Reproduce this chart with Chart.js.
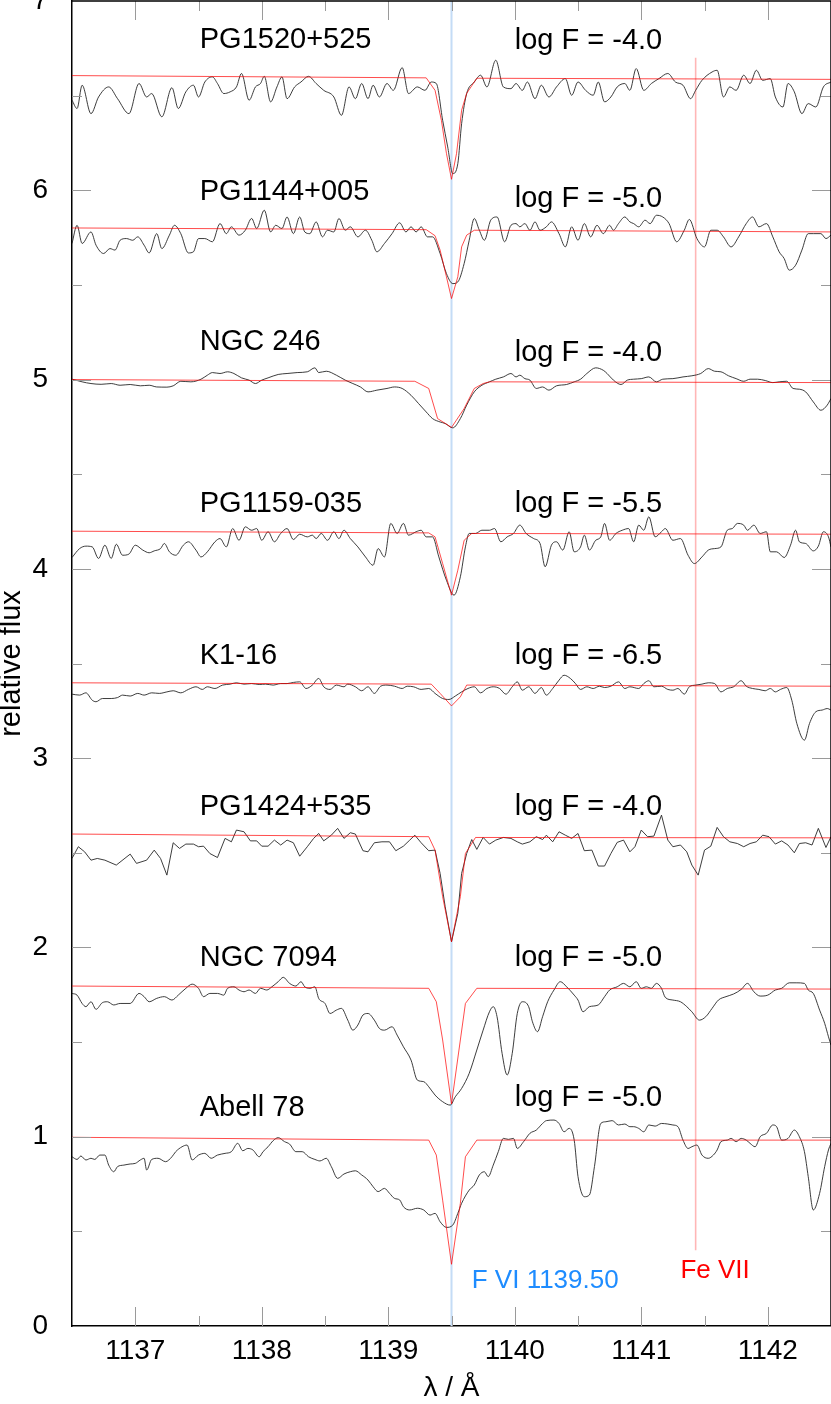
<!DOCTYPE html>
<html>
<head>
<meta charset="utf-8">
<script src="https://cdn.jsdelivr.net/npm/chart.js@4.4.1/dist/chart.umd.min.js"></script>
<style>
  html, body { margin: 0; padding: 0; background: #fff; }
  canvas { display: block; }
</style>
</head>
<body>
<canvas id="spec" width="831" height="1404"></canvas>
<script>
// star names and the F abundance given for each panel
const starNames = ['PG1520+525', 'PG1144+005', 'NGC 246', 'PG1159-035', 'K1-16', 'PG1424+535', 'NGC 7094', 'Abell 78'];
const logF = ['-4.0', '-5.0', '-4.0', '-5.5', '-6.5', '-4.0', '-5.0', '-5.0'];

// axis ticks
const xMajorTicks = [1137, 1138, 1139, 1140, 1141, 1142];
const xMinorTicks = [1137.5, 1138.5, 1139.5, 1140.5, 1141.5];
const yMajorTicks = [0, 1, 2, 3, 4, 5, 6, 7];
const yMinorTicks = [0.5, 1.5, 2.5, 3.5, 4.5, 5.5, 6.5];

// line identifications
const fviWave = 1139.50;
const fviRange = [0, 7];
const feWave = 1141.43;
const feRange = [0.40, 6.70];

// observed spectra (wavelength, shifted relative flux)
const pg1520Obs = [[1136.50,6.476],[1136.54,6.432],[1136.58,6.555],[1136.65,6.405],[1136.71,6.493],[1136.79,6.546],[1136.86,6.484],[1136.95,6.405],[1137.03,6.564],[1137.09,6.493],[1137.13,6.511],[1137.21,6.388],[1137.29,6.542],[1137.34,6.432],[1137.40,6.520],[1137.46,6.555],[1137.50,6.493],[1137.55,6.572],[1137.61,6.599],[1137.65,6.564],[1137.70,6.511],[1137.75,6.520],[1137.80,6.546],[1137.84,6.617],[1137.90,6.476],[1137.95,6.546],[1137.99,6.564],[1138.02,6.602],[1138.07,6.467],[1138.12,6.546],[1138.16,6.599],[1138.20,6.484],[1138.26,6.546],[1138.31,6.572],[1138.37,6.602],[1138.43,6.564],[1138.49,6.528],[1138.57,6.493],[1138.63,6.396],[1138.69,6.546],[1138.74,6.484],[1138.79,6.564],[1138.84,6.484],[1138.88,6.555],[1138.93,6.493],[1138.99,6.564],[1139.04,6.528],[1139.11,6.648],[1139.16,6.511],[1139.23,6.546],[1139.29,6.528],[1139.34,6.572],[1139.38,6.564],[1139.43,6.370],[1139.47,6.229],[1139.51,6.088],[1139.55,6.141],[1139.58,6.352],[1139.62,6.511],[1139.68,6.572],[1139.73,6.608],[1139.78,6.546],[1139.85,6.687],[1139.91,6.546],[1139.97,6.537],[1140.01,6.564],[1140.06,6.528],[1140.10,6.572],[1140.16,6.484],[1140.21,6.555],[1140.27,6.493],[1140.33,6.546],[1140.40,6.590],[1140.45,6.502],[1140.50,6.572],[1140.56,6.528],[1140.62,6.502],[1140.66,6.572],[1140.71,6.467],[1140.76,6.493],[1140.81,6.546],[1140.87,6.564],[1140.91,6.528],[1140.96,6.643],[1141.02,6.528],[1141.08,6.564],[1141.14,6.590],[1141.21,6.617],[1141.27,6.572],[1141.33,6.555],[1141.39,6.484],[1141.43,6.528],[1141.48,6.581],[1141.56,6.625],[1141.60,6.634],[1141.65,6.493],[1141.70,6.546],[1141.75,6.528],[1141.81,6.608],[1141.86,6.564],[1141.91,6.634],[1141.96,6.581],[1142.02,6.590],[1142.06,6.493],[1142.12,6.440],[1142.16,6.564],[1142.21,6.520],[1142.27,6.405],[1142.32,6.458],[1142.38,6.440],[1142.44,6.546],[1142.50,6.572]];

const pg1144Obs = [[1136.50,5.719],[1136.54,5.815],[1136.58,5.719],[1136.65,5.780],[1136.69,5.710],[1136.75,5.666],[1136.80,5.692],[1136.84,5.684],[1136.88,5.736],[1136.93,5.745],[1136.98,5.736],[1137.02,5.754],[1137.07,5.710],[1137.11,5.669],[1137.17,5.771],[1137.21,5.692],[1137.27,5.763],[1137.31,5.815],[1137.36,5.771],[1137.42,5.669],[1137.46,5.675],[1137.50,5.745],[1137.55,5.745],[1137.61,5.728],[1137.67,5.824],[1137.72,5.771],[1137.76,5.807],[1137.82,5.763],[1137.87,5.789],[1137.92,5.851],[1137.96,5.798],[1138.02,5.895],[1138.07,5.780],[1138.11,5.815],[1138.16,5.798],[1138.20,5.859],[1138.25,5.771],[1138.30,5.859],[1138.34,5.780],[1138.38,5.771],[1138.43,5.833],[1138.48,5.754],[1138.52,5.789],[1138.57,5.780],[1138.61,5.851],[1138.66,5.789],[1138.70,5.807],[1138.76,5.754],[1138.82,5.789],[1138.87,5.736],[1138.91,5.675],[1138.97,5.719],[1139.03,5.771],[1139.09,5.828],[1139.14,5.780],[1139.18,5.807],[1139.22,5.780],[1139.26,5.807],[1139.31,5.754],[1139.35,5.754],[1139.41,5.666],[1139.46,5.560],[1139.51,5.507],[1139.55,5.516],[1139.60,5.613],[1139.64,5.736],[1139.68,5.851],[1139.72,5.789],[1139.76,5.736],[1139.81,5.842],[1139.86,5.859],[1139.92,5.728],[1139.97,5.815],[1140.01,5.824],[1140.04,5.807],[1140.08,5.824],[1140.12,5.789],[1140.16,5.833],[1140.20,5.789],[1140.25,5.807],[1140.29,5.833],[1140.35,5.771],[1140.40,5.701],[1140.45,5.807],[1140.50,5.736],[1140.55,5.824],[1140.60,5.754],[1140.65,5.815],[1140.70,5.771],[1140.75,5.815],[1140.78,5.789],[1140.82,5.824],[1140.87,5.859],[1140.91,5.833],[1140.94,5.824],[1140.98,5.807],[1141.03,5.842],[1141.07,5.824],[1141.12,5.868],[1141.17,5.859],[1141.22,5.824],[1141.28,5.728],[1141.34,5.789],[1141.38,5.846],[1141.44,5.745],[1141.50,5.701],[1141.55,5.789],[1141.60,5.789],[1141.65,5.754],[1141.71,5.701],[1141.77,5.754],[1141.83,5.824],[1141.88,5.859],[1141.93,5.807],[1141.99,5.824],[1142.04,5.754],[1142.09,5.675],[1142.13,5.639],[1142.17,5.578],[1142.22,5.604],[1142.27,5.684],[1142.32,5.771],[1142.36,5.771],[1142.42,5.771],[1142.46,5.745],[1142.50,5.763]];

const ngc246Obs = [[1136.50,5.002],[1136.58,4.988],[1136.65,4.979],[1136.73,4.975],[1136.81,4.979],[1136.88,4.970],[1136.96,4.974],[1137.04,4.967],[1137.11,4.970],[1137.17,4.961],[1137.25,4.960],[1137.30,4.967],[1137.36,4.991],[1137.44,4.988],[1137.52,5.002],[1137.57,5.023],[1137.61,5.037],[1137.67,5.032],[1137.73,5.041],[1137.78,5.032],[1137.84,5.009],[1137.90,4.997],[1137.95,4.979],[1138.00,4.997],[1138.05,5.009],[1138.13,5.027],[1138.20,5.032],[1138.28,5.037],[1138.36,5.041],[1138.42,5.062],[1138.45,5.037],[1138.51,5.044],[1138.59,5.023],[1138.66,4.997],[1138.72,4.979],[1138.78,4.961],[1138.84,4.935],[1138.91,4.944],[1138.99,4.953],[1139.05,4.961],[1139.11,4.953],[1139.18,4.917],[1139.24,4.873],[1139.30,4.829],[1139.35,4.794],[1139.41,4.776],[1139.45,4.768],[1139.51,4.745],[1139.57,4.794],[1139.62,4.865],[1139.68,4.935],[1139.74,4.970],[1139.80,4.988],[1139.85,5.002],[1139.91,5.014],[1139.97,5.032],[1140.01,5.014],[1140.04,5.023],[1140.08,5.005],[1140.12,4.997],[1140.17,4.953],[1140.22,4.961],[1140.27,4.944],[1140.33,4.967],[1140.41,4.974],[1140.47,4.988],[1140.52,5.002],[1140.57,5.032],[1140.64,5.062],[1140.70,5.049],[1140.73,5.032],[1140.78,4.997],[1140.84,4.974],[1140.89,4.997],[1140.94,5.002],[1141.00,5.005],[1141.06,5.014],[1141.12,4.988],[1141.17,5.002],[1141.25,5.005],[1141.33,5.014],[1141.40,5.020],[1141.47,5.032],[1141.53,5.058],[1141.58,5.044],[1141.63,5.041],[1141.69,5.020],[1141.75,5.005],[1141.81,4.991],[1141.86,5.002],[1141.92,5.002],[1141.98,4.995],[1142.04,4.984],[1142.09,4.988],[1142.15,4.991],[1142.20,4.953],[1142.25,4.949],[1142.30,4.935],[1142.36,4.882],[1142.42,4.838],[1142.47,4.865],[1142.50,4.900]];

const pg1159Obs = [[1136.50,4.060],[1136.56,4.107],[1136.61,4.120],[1136.66,4.116],[1136.71,4.055],[1136.76,4.125],[1136.81,4.055],[1136.85,4.130],[1136.90,4.072],[1136.95,4.078],[1137.00,4.125],[1137.06,4.099],[1137.11,4.085],[1137.15,4.095],[1137.20,4.107],[1137.23,4.134],[1137.27,4.090],[1137.32,4.072],[1137.38,4.125],[1137.42,4.143],[1137.48,4.099],[1137.52,4.063],[1137.57,4.090],[1137.63,4.143],[1137.67,4.160],[1137.72,4.116],[1137.77,4.213],[1137.82,4.151],[1137.87,4.222],[1137.92,4.204],[1137.96,4.213],[1138.00,4.151],[1138.05,4.196],[1138.10,4.143],[1138.15,4.187],[1138.20,4.213],[1138.25,4.155],[1138.30,4.183],[1138.36,4.169],[1138.40,4.178],[1138.43,4.160],[1138.47,4.187],[1138.52,4.151],[1138.57,4.196],[1138.61,4.160],[1138.65,4.204],[1138.70,4.160],[1138.76,4.116],[1138.82,4.063],[1138.88,4.019],[1138.92,4.107],[1138.97,4.063],[1139.02,4.240],[1139.07,4.187],[1139.12,4.240],[1139.16,4.178],[1139.22,4.196],[1139.26,4.204],[1139.30,4.169],[1139.35,4.169],[1139.40,4.063],[1139.46,3.940],[1139.52,3.861],[1139.57,3.958],[1139.61,4.116],[1139.64,4.187],[1139.69,4.187],[1139.74,4.204],[1139.80,4.204],[1139.84,4.213],[1139.89,4.143],[1139.94,4.169],[1139.99,4.187],[1140.04,4.231],[1140.09,4.187],[1140.15,4.160],[1140.20,4.134],[1140.24,4.011],[1140.29,4.125],[1140.33,4.143],[1140.38,4.099],[1140.43,4.196],[1140.47,4.090],[1140.52,4.116],[1140.55,4.178],[1140.59,4.099],[1140.64,4.151],[1140.68,4.169],[1140.71,4.240],[1140.75,4.151],[1140.80,4.187],[1140.85,4.204],[1140.90,4.213],[1140.94,4.143],[1140.98,4.231],[1141.02,4.204],[1141.06,4.275],[1141.11,4.169],[1141.16,4.196],[1141.19,4.213],[1141.25,4.151],[1141.31,4.160],[1141.37,4.072],[1141.42,4.028],[1141.48,4.063],[1141.53,4.099],[1141.58,4.107],[1141.63,4.116],[1141.68,4.204],[1141.72,4.213],[1141.76,4.240],[1141.81,4.231],[1141.84,4.204],[1141.89,4.231],[1141.94,4.187],[1141.99,4.196],[1142.02,4.090],[1142.07,4.090],[1142.13,4.060],[1142.18,4.125],[1142.22,4.204],[1142.25,4.143],[1142.30,4.134],[1142.36,4.095],[1142.40,4.120],[1142.44,4.196],[1142.48,4.169],[1142.50,4.116]];

const k116Obs = [[1136.50,3.338],[1136.56,3.333],[1136.61,3.345],[1136.66,3.306],[1136.69,3.298],[1136.74,3.315],[1136.81,3.315],[1136.86,3.320],[1136.90,3.333],[1136.96,3.328],[1137.02,3.342],[1137.07,3.333],[1137.13,3.345],[1137.19,3.342],[1137.25,3.350],[1137.30,3.356],[1137.36,3.345],[1137.42,3.363],[1137.48,3.377],[1137.53,3.363],[1137.57,3.377],[1137.63,3.368],[1137.69,3.386],[1137.75,3.391],[1137.80,3.398],[1137.86,3.391],[1137.92,3.394],[1137.98,3.389],[1138.03,3.391],[1138.09,3.386],[1138.15,3.394],[1138.20,3.394],[1138.25,3.400],[1138.30,3.403],[1138.35,3.368],[1138.40,3.386],[1138.45,3.421],[1138.49,3.377],[1138.54,3.363],[1138.59,3.386],[1138.65,3.377],[1138.68,3.391],[1138.74,3.377],[1138.79,3.356],[1138.84,3.377],[1138.89,3.342],[1138.94,3.380],[1138.99,3.386],[1139.05,3.380],[1139.11,3.368],[1139.15,3.380],[1139.20,3.377],[1139.26,3.363],[1139.32,3.368],[1139.37,3.342],[1139.43,3.315],[1139.48,3.310],[1139.53,3.328],[1139.58,3.350],[1139.63,3.368],[1139.68,3.377],[1139.73,3.345],[1139.78,3.368],[1139.83,3.377],[1139.88,3.368],[1139.93,3.338],[1139.98,3.377],[1140.02,3.403],[1140.06,3.359],[1140.11,3.377],[1140.16,3.342],[1140.21,3.373],[1140.25,3.333],[1140.30,3.368],[1140.35,3.412],[1140.39,3.438],[1140.44,3.421],[1140.48,3.394],[1140.52,3.363],[1140.57,3.377],[1140.62,3.368],[1140.67,3.380],[1140.71,3.373],[1140.76,3.380],[1140.82,3.403],[1140.87,3.368],[1140.91,3.377],[1140.98,3.368],[1141.02,3.394],[1141.06,3.409],[1141.10,3.377],[1141.16,3.380],[1141.21,3.363],[1141.25,3.359],[1141.29,3.368],[1141.34,3.338],[1141.38,3.377],[1141.43,3.386],[1141.48,3.391],[1141.53,3.398],[1141.58,3.394],[1141.63,3.350],[1141.68,3.368],[1141.73,3.377],[1141.79,3.409],[1141.83,3.380],[1141.88,3.368],[1141.93,3.363],[1141.98,3.356],[1142.02,3.368],[1142.06,3.350],[1142.10,3.363],[1142.15,3.373],[1142.19,3.306],[1142.23,3.183],[1142.29,3.095],[1142.33,3.183],[1142.38,3.245],[1142.43,3.254],[1142.47,3.262],[1142.50,3.254]];

const pg1424Obs = [[1136.50,2.470],[1136.55,2.532],[1136.60,2.505],[1136.65,2.461],[1136.70,2.470],[1136.76,2.461],[1136.85,2.435],[1136.96,2.493],[1137.01,2.444],[1137.09,2.461],[1137.15,2.514],[1137.20,2.470],[1137.25,2.382],[1137.30,2.553],[1137.35,2.523],[1137.40,2.546],[1137.46,2.546],[1137.50,2.532],[1137.54,2.535],[1137.59,2.496],[1137.65,2.475],[1137.71,2.576],[1137.76,2.558],[1137.80,2.620],[1137.86,2.611],[1137.91,2.563],[1137.96,2.563],[1138.00,2.535],[1138.05,2.535],[1138.10,2.567],[1138.15,2.541],[1138.20,2.567],[1138.25,2.553],[1138.30,2.482],[1138.36,2.532],[1138.41,2.576],[1138.45,2.602],[1138.49,2.563],[1138.55,2.593],[1138.60,2.629],[1138.65,2.576],[1138.70,2.606],[1138.74,2.599],[1138.80,2.511],[1138.84,2.505],[1138.89,2.553],[1138.95,2.558],[1139.01,2.558],[1139.06,2.511],[1139.12,2.535],[1139.17,2.567],[1139.21,2.593],[1139.26,2.553],[1139.32,2.511],[1139.37,2.514],[1139.41,2.391],[1139.45,2.215],[1139.50,2.030],[1139.55,2.180],[1139.58,2.391],[1139.62,2.496],[1139.66,2.570],[1139.70,2.518],[1139.75,2.581],[1139.80,2.546],[1139.85,2.567],[1139.91,2.581],[1139.97,2.576],[1140.02,2.558],[1140.06,2.546],[1140.12,2.558],[1140.17,2.585],[1140.22,2.570],[1140.25,2.593],[1140.30,2.558],[1140.35,2.611],[1140.40,2.593],[1140.45,2.576],[1140.50,2.602],[1140.55,2.511],[1140.61,2.514],[1140.66,2.430],[1140.71,2.430],[1140.76,2.496],[1140.81,2.555],[1140.86,2.567],[1140.91,2.505],[1140.95,2.532],[1141.00,2.620],[1141.05,2.585],[1141.10,2.588],[1141.16,2.699],[1141.21,2.567],[1141.25,2.532],[1141.31,2.541],[1141.36,2.505],[1141.40,2.435],[1141.45,2.382],[1141.50,2.514],[1141.55,2.535],[1141.60,2.634],[1141.65,2.585],[1141.70,2.558],[1141.76,2.549],[1141.81,2.532],[1141.86,2.549],[1141.91,2.558],[1141.96,2.593],[1142.01,2.585],[1142.06,2.546],[1142.11,2.563],[1142.16,2.541],[1142.21,2.500],[1142.25,2.549],[1142.30,2.553],[1142.35,2.541],[1142.40,2.629],[1142.46,2.528],[1142.50,2.585]];

const ngc7094Obs = [[1136.50,1.757],[1136.54,1.748],[1136.58,1.704],[1136.61,1.687],[1136.65,1.713],[1136.69,1.673],[1136.74,1.708],[1136.78,1.713],[1136.83,1.696],[1136.88,1.704],[1136.96,1.704],[1137.03,1.757],[1137.07,1.740],[1137.11,1.713],[1137.17,1.731],[1137.23,1.740],[1137.29,1.722],[1137.34,1.748],[1137.40,1.784],[1137.45,1.806],[1137.50,1.784],[1137.54,1.740],[1137.59,1.757],[1137.65,1.757],[1137.70,1.748],[1137.73,1.784],[1137.78,1.792],[1137.82,1.775],[1137.86,1.766],[1137.90,1.775],[1137.95,1.757],[1137.99,1.784],[1138.04,1.775],[1138.08,1.792],[1138.13,1.819],[1138.17,1.842],[1138.22,1.810],[1138.27,1.796],[1138.31,1.819],[1138.34,1.792],[1138.38,1.784],[1138.42,1.792],[1138.45,1.731],[1138.50,1.704],[1138.54,1.651],[1138.59,1.669],[1138.63,1.678],[1138.68,1.616],[1138.72,1.563],[1138.76,1.590],[1138.80,1.643],[1138.84,1.651],[1138.89,1.616],[1138.93,1.572],[1138.97,1.563],[1139.03,1.581],[1139.07,1.537],[1139.12,1.475],[1139.18,1.405],[1139.23,1.299],[1139.28,1.291],[1139.32,1.264],[1139.37,1.220],[1139.43,1.185],[1139.49,1.167],[1139.53,1.211],[1139.58,1.255],[1139.64,1.335],[1139.70,1.458],[1139.75,1.563],[1139.80,1.660],[1139.83,1.687],[1139.86,1.634],[1139.90,1.440],[1139.94,1.326],[1139.98,1.440],[1140.02,1.651],[1140.06,1.713],[1140.11,1.687],[1140.14,1.607],[1140.18,1.555],[1140.22,1.634],[1140.26,1.713],[1140.31,1.775],[1140.36,1.819],[1140.41,1.792],[1140.47,1.748],[1140.50,1.722],[1140.54,1.660],[1140.59,1.687],[1140.66,1.696],[1140.71,1.740],[1140.75,1.775],[1140.81,1.792],[1140.86,1.810],[1140.91,1.792],[1140.96,1.819],[1141.00,1.784],[1141.04,1.792],[1141.08,1.784],[1141.12,1.810],[1141.16,1.784],[1141.19,1.736],[1141.25,1.722],[1141.31,1.713],[1141.36,1.687],[1141.40,1.660],[1141.46,1.616],[1141.51,1.634],[1141.56,1.678],[1141.61,1.722],[1141.67,1.740],[1141.73,1.754],[1141.79,1.778],[1141.84,1.810],[1141.89,1.766],[1141.94,1.743],[1142.00,1.748],[1142.06,1.775],[1142.11,1.784],[1142.17,1.813],[1142.23,1.813],[1142.29,1.810],[1142.32,1.775],[1142.36,1.757],[1142.41,1.669],[1142.45,1.599],[1142.48,1.528],[1142.50,1.484]];

const abell78Obs = [[1136.50,0.894],[1136.54,0.880],[1136.57,0.898],[1136.61,0.877],[1136.65,0.886],[1136.68,0.880],[1136.72,0.903],[1136.76,0.903],[1136.79,0.850],[1136.83,0.815],[1136.86,0.842],[1136.91,0.850],[1136.96,0.856],[1137.00,0.859],[1137.04,0.877],[1137.07,0.886],[1137.09,0.824],[1137.13,0.880],[1137.18,0.886],[1137.24,0.868],[1137.29,0.894],[1137.32,0.921],[1137.37,0.947],[1137.41,0.956],[1137.45,0.877],[1137.50,0.903],[1137.55,0.912],[1137.60,0.886],[1137.65,0.903],[1137.71,0.912],[1137.76,0.921],[1137.81,0.965],[1137.85,0.926],[1137.89,0.938],[1137.93,0.930],[1137.98,0.894],[1138.01,0.921],[1138.05,0.947],[1138.09,0.979],[1138.13,0.995],[1138.18,0.974],[1138.22,0.961],[1138.27,0.921],[1138.32,0.921],[1138.37,0.894],[1138.42,0.880],[1138.46,0.872],[1138.51,0.886],[1138.55,0.842],[1138.60,0.780],[1138.65,0.803],[1138.70,0.815],[1138.74,0.820],[1138.79,0.798],[1138.84,0.771],[1138.88,0.736],[1138.92,0.710],[1138.97,0.727],[1139.01,0.701],[1139.05,0.674],[1139.09,0.666],[1139.12,0.630],[1139.17,0.613],[1139.23,0.622],[1139.28,0.613],[1139.33,0.586],[1139.37,0.595],[1139.41,0.551],[1139.46,0.521],[1139.51,0.533],[1139.55,0.595],[1139.58,0.648],[1139.64,0.718],[1139.68,0.745],[1139.72,0.798],[1139.76,0.815],[1139.79,0.789],[1139.83,0.850],[1139.87,0.921],[1139.91,0.991],[1139.95,0.986],[1139.99,0.991],[1140.02,0.938],[1140.07,0.974],[1140.12,1.018],[1140.17,1.035],[1140.22,1.070],[1140.25,1.085],[1140.31,1.088],[1140.35,1.070],[1140.39,1.026],[1140.43,1.044],[1140.47,0.982],[1140.50,0.789],[1140.55,0.683],[1140.59,0.692],[1140.63,0.842],[1140.68,1.070],[1140.72,1.079],[1140.77,1.085],[1140.82,1.062],[1140.87,1.067],[1140.91,1.053],[1140.94,1.053],[1140.98,1.044],[1141.02,1.026],[1141.06,1.062],[1141.11,1.056],[1141.16,1.070],[1141.21,1.067],[1141.25,1.062],[1141.29,1.053],[1141.33,0.982],[1141.37,0.938],[1141.40,0.947],[1141.44,0.956],[1141.48,0.903],[1141.53,0.886],[1141.57,0.903],[1141.60,0.930],[1141.63,0.974],[1141.68,0.982],[1141.71,0.991],[1141.75,0.974],[1141.79,0.991],[1141.83,0.982],[1141.86,0.965],[1141.90,0.947],[1141.94,1.000],[1141.99,1.018],[1142.04,1.062],[1142.07,1.053],[1142.11,0.982],[1142.16,0.991],[1142.21,1.035],[1142.25,1.000],[1142.29,0.921],[1142.32,0.789],[1142.36,0.613],[1142.41,0.701],[1142.45,0.842],[1142.48,0.930],[1142.50,0.965]];

// model spectra
const pg1520Model = [[1136.50,6.606],[1139.30,6.594],[1139.37,6.528],[1139.42,6.370],[1139.46,6.195],[1139.50,6.058],[1139.54,6.195],[1139.58,6.423],[1139.62,6.512],[1139.70,6.592],[1142.50,6.586]];
const pg1144Model = [[1136.50,5.801],[1139.30,5.792],[1139.37,5.760],[1139.41,5.684],[1139.46,5.543],[1139.50,5.428],[1139.55,5.543],[1139.58,5.701],[1139.62,5.763],[1139.68,5.789],[1142.50,5.780]];
const ngc246Model = [[1136.50,5.000],[1139.21,4.991],[1139.32,4.953],[1139.39,4.794],[1139.50,4.747],[1139.60,4.847],[1139.68,4.953],[1139.75,4.979],[1139.80,4.988],[1142.50,4.984]];
const pg1159Model = [[1136.50,4.199],[1139.32,4.190],[1139.37,4.169],[1139.43,4.028],[1139.50,3.861],[1139.55,3.993],[1139.60,4.151],[1139.66,4.187],[1142.50,4.183]];
const k116Model = [[1136.50,3.398],[1139.34,3.391],[1139.41,3.342],[1139.50,3.276],[1139.57,3.324],[1139.62,3.386],[1142.50,3.380]];
const pg1424Model = [[1136.50,2.599],[1139.32,2.585],[1139.37,2.514],[1139.43,2.268],[1139.50,2.030],[1139.57,2.268],[1139.61,2.496],[1139.69,2.581],[1142.50,2.579]];
const ngc7094Model = [[1136.50,1.796],[1139.32,1.784],[1139.38,1.713],[1139.43,1.511],[1139.50,1.173],[1139.57,1.511],[1139.61,1.704],[1139.70,1.784],[1142.50,1.780]];
const abell78Model = [[1136.50,0.997],[1139.32,0.982],[1139.38,0.903],[1139.43,0.665],[1139.50,0.326],[1139.57,0.648],[1139.61,0.894],[1139.70,0.982],[1142.50,0.982]];

const observed = [pg1520Obs, pg1144Obs, ngc246Obs, pg1159Obs, k116Obs, pg1424Obs, ngc7094Obs, abell78Obs];
const models = [pg1520Model, pg1144Model, ngc246Model, pg1159Model, k116Model, pg1424Model, ngc7094Model, abell78Model];

// where the panel captions sit, in data units
const captions = {
  nameX: 1137.51,
  logX: 1140.00,
  nameY: [6.750, 5.951, 5.157, 4.302, 3.495, 2.698, 1.900, 1.109],
  logY: [6.745, 5.914, 5.100, 4.302, 3.495, 2.698, 1.900, 1.162]
};

const FONT = '"Liberation Sans", Arial, Helvetica, sans-serif';
const toXY = arr => arr.map(p => ({x: p[0], y: p[1]}));

let datasets = [];
models.forEach(m => {
  datasets.push({data: toXY(m), borderColor: 'rgba(255,0,0,0.7)', borderWidth: 1, tension: 0});
});
observed.forEach((o, i) => {
  datasets.push({
    data: toXY(o),
    borderColor: 'rgba(40,40,40,0.9)',
    borderWidth: 1,
    cubicInterpolationMode: i == 5 ? 'default' : 'monotone',
    tension: i == 5 ? 0 : 0.4
  });
});
datasets.push({data: [{x: fviWave, y: fviRange[0]}, {x: fviWave, y: fviRange[1]}], borderColor: '#c4dcf6', borderWidth: 2});
datasets.push({data: [{x: feWave, y: feRange[0]}, {x: feWave, y: feRange[1]}], borderColor: '#ffb6b6', borderWidth: 1.6});

// inner tick marks on all four sides + top/right frame
const frameTicks = {
  id: 'frameTicks',
  afterDatasetsDraw(chart) {
    const {ctx, chartArea: a, scales: {x, y}} = chart;
    ctx.save();
    ctx.strokeStyle = '#9a9a9a';
    ctx.lineWidth = 1;
    ctx.beginPath();
    const vt = (v, len) => {
      const p = Math.round(x.getPixelForValue(v)) + 0.5;
      ctx.moveTo(p, a.bottom); ctx.lineTo(p, a.bottom - len);
      ctx.moveTo(p, a.top); ctx.lineTo(p, a.top + len);
    };
    const ht = (v, len) => {
      const p = Math.round(y.getPixelForValue(v)) + 0.5;
      ctx.moveTo(a.left, p); ctx.lineTo(a.left + len, p);
      ctx.moveTo(a.right, p); ctx.lineTo(a.right - len, p);
    };
    xMajorTicks.forEach(v => vt(v, 19));
    xMinorTicks.forEach(v => vt(v, 10));
    yMajorTicks.slice(1, -1).forEach(v => ht(v, 19));
    yMinorTicks.forEach(v => ht(v, 10));
    ctx.stroke();

    ctx.strokeStyle = '#000';
    ctx.lineWidth = 1.5;
    ctx.beginPath();
    ctx.moveTo(a.left, a.top);
    ctx.lineTo(a.right, a.top);
    ctx.lineTo(a.right, a.bottom);
    ctx.stroke();
    ctx.restore();
  }
};

// star names, abundances and line identifications
const panelText = {
  id: 'panelText',
  afterDraw(chart) {
    const {ctx, scales: {x, y}} = chart;
    ctx.save();
    ctx.textBaseline = 'alphabetic';
    ctx.textAlign = 'left';
    ctx.fillStyle = '#000';
    ctx.font = '29px ' + FONT;
    starNames.forEach((n, i) => {
      ctx.fillText(n, x.getPixelForValue(captions.nameX), y.getPixelForValue(captions.nameY[i]));
      ctx.fillText('log F = ' + logF[i], x.getPixelForValue(captions.logX), y.getPixelForValue(captions.logY[i]));
    });
    ctx.font = '26px ' + FONT;
    ctx.fillStyle = '#1e8cff';
    ctx.fillText('F VI 1139.50', x.getPixelForValue(1139.66), y.getPixelForValue(0.200));
    ctx.fillStyle = '#ff0000';
    ctx.fillText('Fe VII', x.getPixelForValue(1141.31), y.getPixelForValue(0.252));
    ctx.restore();
  }
};

new Chart(document.getElementById('spec'), {
  type: 'line',
  data: {datasets: datasets},
  plugins: [frameTicks, panelText],
  options: {
    responsive: false,
    animation: false,
    devicePixelRatio: 1,
    layout: {padding: {top: 1, right: 0, bottom: 0, left: 0}},
    elements: {point: {radius: 0}},
    plugins: {legend: {display: false}, tooltip: {enabled: false}},
    scales: {
      x: {
        type: 'linear',
        min: 1136.5,
        max: 1142.5,
        afterBuildTicks: s => { s.ticks = xMajorTicks.map(v => ({value: v})); },
        afterFit: s => { s.height = 78; s.paddingLeft = 0; s.paddingRight = 0; },
        grid: {display: false, drawTicks: false},
        border: {display: true, color: '#000', width: 1.5},
        ticks: {
          color: '#000', padding: 8, maxRotation: 0, autoSkip: false,
          font: {family: FONT, size: 28},
          callback: v => String(v)
        },
        title: {display: true, text: 'λ / Å', color: '#000', padding: 0, font: {family: FONT, size: 28, lineHeight: 1.15}}
      },
      y: {
        type: 'linear',
        min: 0,
        max: 7,
        afterBuildTicks: s => { s.ticks = yMajorTicks.map(v => ({value: v})); },
        afterFit: s => { s.width = 72; s.paddingTop = 0; s.paddingBottom = 0; },
        grid: {display: false, drawTicks: false},
        border: {display: true, color: '#000', width: 1.5},
        ticks: {
          color: '#000', padding: 24, autoSkip: false,
          font: {family: FONT, size: 28},
          callback: v => String(v)
        },
        title: {display: true, text: 'relative flux', color: '#000', padding: 0, font: {family: FONT, size: 29, lineHeight: 0.85}}
      }
    }
  }
});
</script>
</body>
</html>
